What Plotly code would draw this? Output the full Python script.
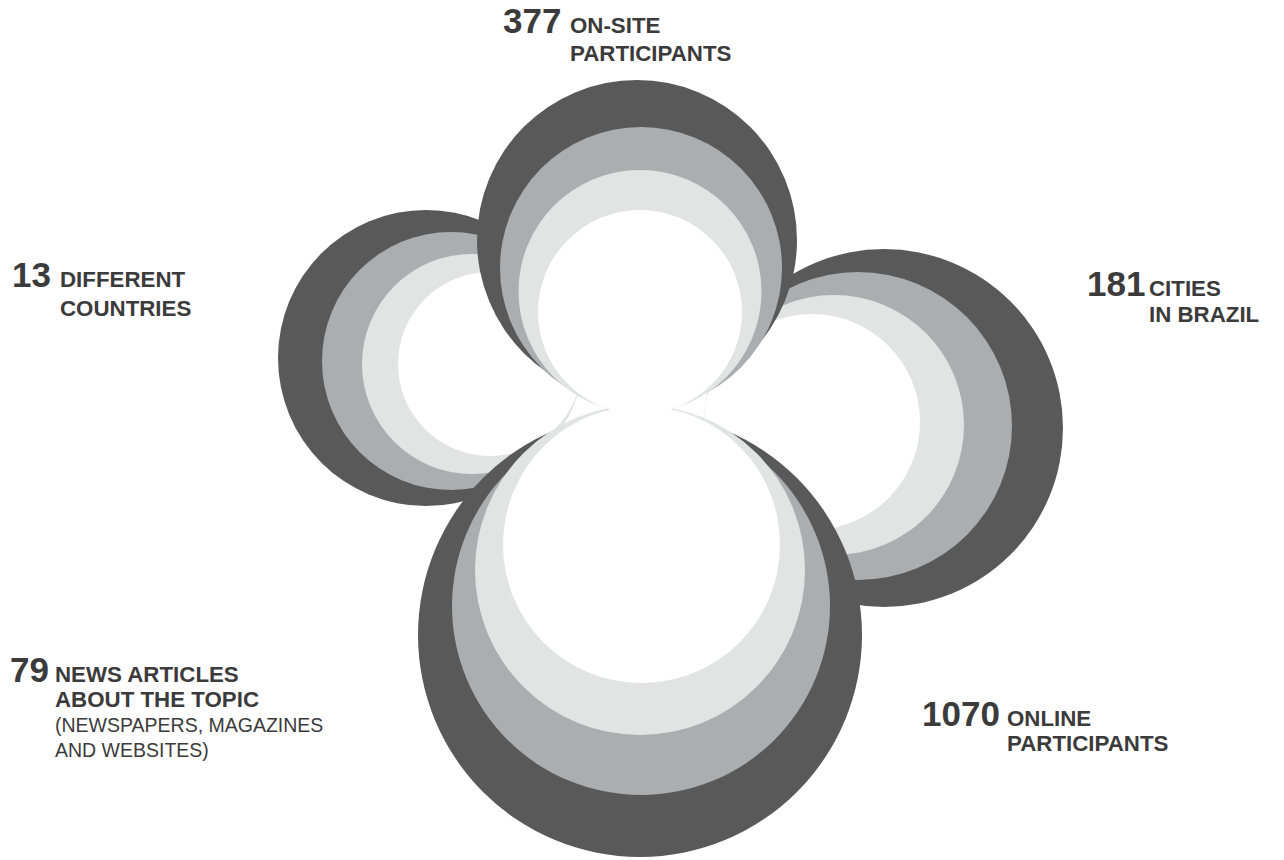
import plotly.graph_objects as go

# ---------------- data ----------------
stat_values = [377, 13, 181, 79, 1070]
stat_titles = [
    ["ON-SITE", "PARTICIPANTS"],
    ["DIFFERENT", "COUNTRIES"],
    ["CITIES", "IN BRAZIL"],
    ["NEWS ARTICLES", "ABOUT THE TOPIC"],
    ["ONLINE", "PARTICIPANTS"],
]
stat_notes = [[], [], [], ["(NEWSPAPERS, MAGAZINES", "AND WEBSITES)"], []]

# ---------------- design (positions / styles) ----------------
W, H = 1284, 860
ring_colors = ["#595959", "#abaeb0", "#e2e3e3", "#ffffff"]
text_color = "#3b3b3b"
FONT = "Liberation Sans, Arial, sans-serif"

# petals: list of rings (cx, cy, r), outer -> inner; drawn in this order
petal_left = [(426, 358, 148), (451, 361, 129), (472, 364, 110), (490, 364, 92)]
petal_right = [(884, 428, 179), (858, 426, 154), (834, 425, 130), (812, 422, 108)]
petal_bottom = [(640, 635, 222), (641, 606, 189), (640, 570, 165), (641.5, 544.5, 138.5)]
petal_top = [(637, 240, 160), (641, 268, 141), (640, 291.5, 121.5), (640, 312, 102)]
petals = [petal_left, petal_right, petal_bottom, petal_top]

# label layout: number x, text x, first baseline, line step
label_layout = [
    dict(nx=501, tx=568, base=33, step=28),
    dict(nx=10, tx=58, base=287, step=29),
    dict(nx=1085, tx=1147, base=296, step=26),
    dict(nx=8, tx=53, base=682, step=25),
    dict(nx=920, tx=1005, base=726, step=25),
]
NUM_SIZE = 35
TITLE_SIZE = 22.3
NOTE_SIZE = 19.5

fig = go.Figure()
# invisible trace to establish axes
fig.add_trace(go.Scatter(x=[0, W], y=[0, H], mode="markers",
                         marker=dict(opacity=0), hoverinfo="skip", showlegend=False))

shapes = []
for petal in petals:
    for (cx, cy, r), col in zip(petal, ring_colors):
        shapes.append(dict(type="circle", xref="x", yref="y",
                           x0=cx - r, x1=cx + r, y0=cy - r, y1=cy + r,
                           fillcolor=col, line=dict(width=0), layer="above"))

annotations = []


def add_line(x, baseline, text, size, bold=True):
    annotations.append(dict(
        x=x, y=baseline - 0.35 * size, xref="x", yref="y",
        xanchor="left", yanchor="middle", showarrow=False,
        text=f"<b>{text}</b>" if bold else text,
        font=dict(family=FONT, size=size, color=text_color),
    ))


for val, titles, notes, lay in zip(stat_values, stat_titles, stat_notes, label_layout):
    add_line(lay["nx"], lay["base"], str(val), NUM_SIZE)
    b = lay["base"]
    for t in titles:
        add_line(lay["tx"], b, t, TITLE_SIZE)
        b += lay["step"]
    for n in notes:
        add_line(lay["tx"], b, n, NOTE_SIZE, bold=False)
        b += lay["step"]

fig.update_layout(
    width=W, height=H,
    margin=dict(l=0, r=0, t=0, b=0),
    paper_bgcolor="white", plot_bgcolor="white",
    xaxis=dict(range=[0, W], visible=False, fixedrange=True),
    yaxis=dict(range=[H, 0], visible=False, fixedrange=True),
    shapes=shapes, annotations=annotations,
    showlegend=False,
)

fig.write_html(
    "out.html",
    config={"displayModeBar": False},
    post_script="document.body.style.margin='0';document.body.style.overflow='hidden';",
)
